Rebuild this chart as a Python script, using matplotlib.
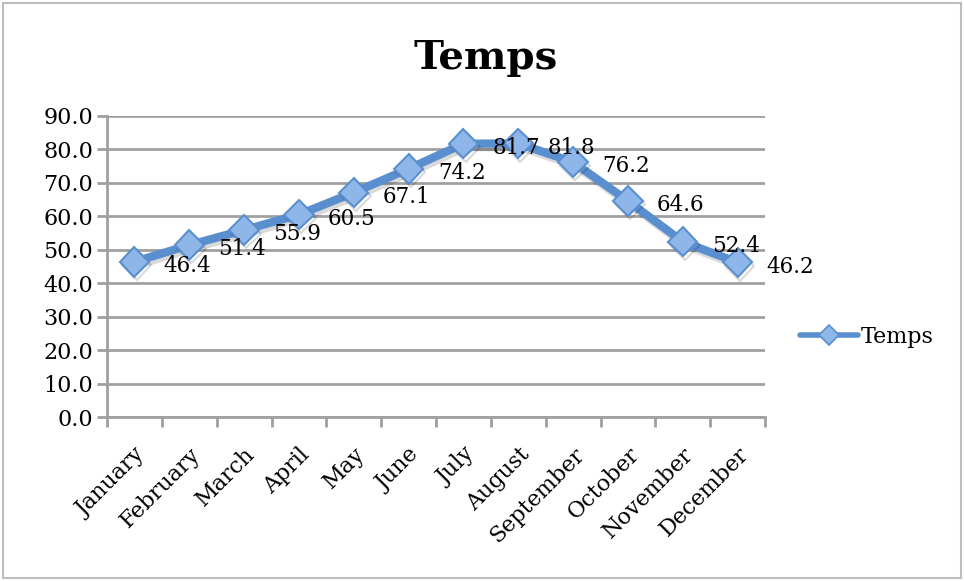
import matplotlib.pyplot as plt
import matplotlib.patheffects as pe
from matplotlib.patches import Rectangle
from matplotlib.lines import Line2D

months = ['January', 'February', 'March', 'April', 'May', 'June', 'July',
          'August', 'September', 'October', 'November', 'December']
temps = [46.4, 51.4, 55.9, 60.5, 67.1, 74.2, 81.7, 81.8, 76.2, 64.6, 52.4, 46.2]
yticks = [0, 10, 20, 30, 40, 50, 60, 70, 80, 90]

plt.rcParams['font.family'] = ['DejaVu Serif']

W, H = 964, 581
fig = plt.figure(figsize=(W / 100, H / 100), dpi=100)
ax = fig.add_axes([107 / W, 1 - 417 / H, (765 - 107) / W, (417 - 116) / H])

grid_col = '#a0a0a0'
line_col = '#5a8fcf'
mark_fill = '#8fb6e8'

x = list(range(len(months)))
ax.plot(x, temps, color=line_col, lw=6, marker='D', ms=15,
        mfc=mark_fill, mec=line_col, mew=1.5, zorder=3,
        solid_joinstyle='round', solid_capstyle='round',
        path_effects=[pe.SimpleLineShadow(offset=(1.5, -2.5), alpha=0.15), pe.Normal()])

for xi, v in zip(x, temps):
    ax.annotate(f'{v:.1f}', (xi, v), xytext=(21, -3), textcoords='offset points',
                ha='left', va='center', fontsize=15.5, zorder=4)

ax.set_xlim(-0.5, len(months) - 0.5)
ax.set_ylim(0, 90)
ax.set_yticks(yticks)
ax.set_yticklabels([f'{t:.1f}' for t in yticks], fontsize=16)
ax.yaxis.grid(True, color=grid_col, lw=2)
ax.set_axisbelow(True)

ax.set_xticks(x)
ax.set_xticklabels(months, rotation=45, ha='right', va='top', rotation_mode='anchor',
                   fontsize=16)
ax.tick_params(axis='x', length=0, pad=19)
ax.set_xticks([i - 0.5 for i in range(len(months) + 1)], minor=True)
ax.tick_params(axis='x', which='minor', length=7, width=2, color=grid_col)
ax.tick_params(axis='y', length=7, width=2, color=grid_col, pad=3)

for s in ['top', 'right']:
    ax.spines[s].set_visible(False)
for s in ['left', 'bottom']:
    ax.spines[s].set_color(grid_col)
    ax.spines[s].set_linewidth(2)

fig.text(486 / W, 1 - 58 / H, 'Temps', ha='center', va='center',
         fontsize=29, fontweight='bold')

handle = Line2D([], [], color=line_col, lw=4, marker='D', ms=10,
                mfc=mark_fill, mec=line_col, mew=1.2, solid_capstyle='round')
fig.legend(handles=[handle], labels=['Temps'], loc='center left',
           bbox_to_anchor=(800 / W, 1 - 337 / H), frameon=False, fontsize=16,
           handlelength=2.6, handletextpad=0.15, borderaxespad=0, borderpad=0)

fig.patches.append(Rectangle((3 / W, 3 / H), (W - 6) / W, (H - 6) / H,
                             transform=fig.transFigure, fill=False,
                             edgecolor='#bdbdbd', lw=1.5))

fig.savefig('out.png', dpi=100)
